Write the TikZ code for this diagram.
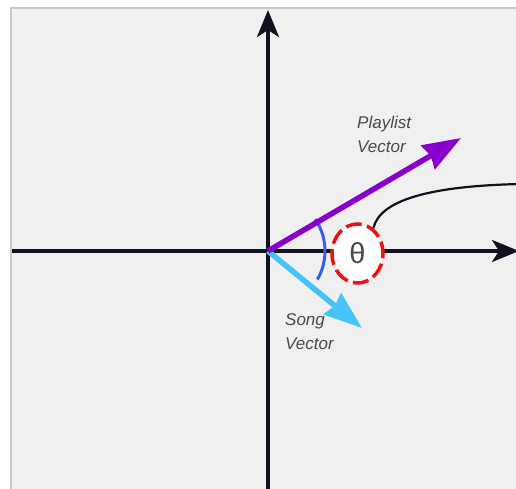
\documentclass[tikz,border=0pt]{standalone}
\usepackage{fontspec}
\setmainfont{Liberation Sans}
\usetikzlibrary{arrows.meta,shapes.geometric}
\definecolor{axis}{HTML}{12111F}
\definecolor{panel}{HTML}{F0F0F0}
\definecolor{frame}{HTML}{C8C8C8}
\definecolor{purp}{HTML}{8800CC}
\definecolor{sky}{HTML}{44C4F8}
\definecolor{arcblue}{HTML}{3A5CF0}
\definecolor{redd}{HTML}{EE1111}
\definecolor{txt}{HTML}{4A4A4A}
\begin{document}
\begin{tikzpicture}[x=1pt,y=-1pt,
  axisline/.style={draw=axis,line width=3.6pt,-{Stealth[length=27pt,width=22pt,inset=7pt]}},
  vec/.style={line width=5.5pt,-{Stealth[length=38pt,width=27pt,inset=3pt]}},
  lbl/.style={text=txt,font=\fontsize{17}{24}\selectfont\itshape,align=left,inner sep=0pt,anchor=north west}]
\useasboundingbox (0,0) rectangle (516,488);
\clip (0,0) rectangle (516,488);
\fill[white] (0,0) rectangle (516,488);
\filldraw[fill=panel,draw=frame,line width=2pt] (11,8) rectangle (530,500);
\coordinate (O) at (268,251);
\coordinate (Yb) at (268,492);
\coordinate (Yt) at (268,10);
\coordinate (Xl) at (12,251);
\coordinate (Xr) at (519,251);
\coordinate (P) at (461,138);
\coordinate (S) at (362,328);
\coordinate (E) at (520,184);
\draw[axisline] (Yb) -- (Yt);
\draw[axisline] (Xl) -- (Xr);
\draw[arcblue,line width=3pt] (O) ++(30:57) arc[start angle=30,end angle=-34,radius=57];
\draw[vec,draw=sky,fill=sky] (O) -- (S);
\draw[vec,draw=purp,fill=purp] (O) -- (P);
\node (th) [ellipse,minimum width=51pt,minimum height=59pt,inner sep=0pt,fill=white,draw=redd,line width=3.5pt,dash pattern=on 16pt off 5.5pt,dash phase=4pt,text=txt,font=\fontsize{29}{29}\selectfont] at (357.5,253.5) {\raisebox{2pt}{θ}};
\draw[axis,line width=2.2pt] (th.58) .. controls (380,200) and (430,186) .. (E);
\node (pl) [lbl] at (357,116) {Playlist\\Vector};
\node (sv) [lbl] at (285,313) {Song\\Vector};
\end{tikzpicture}
\end{document}
